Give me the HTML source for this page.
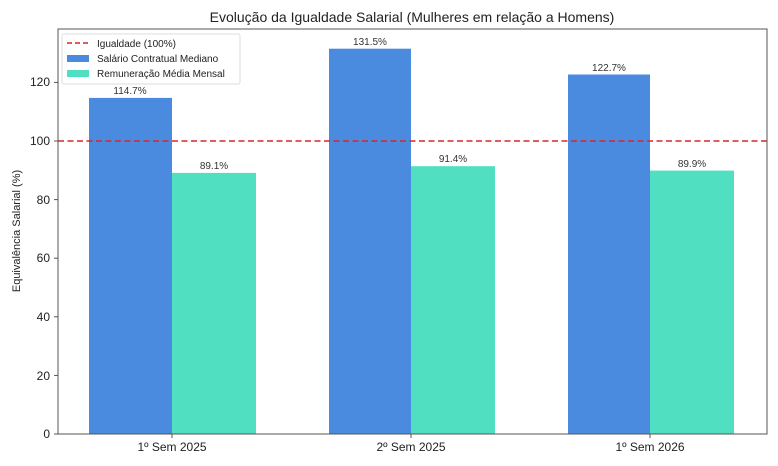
<!DOCTYPE html>
<html><head><meta charset="utf-8"><style>body{margin:0;background:#fff}svg{display:block}</style></head><body>
<svg width="778" height="466" xmlns="http://www.w3.org/2000/svg" font-family="Liberation Sans, sans-serif">
<rect width="778" height="466" fill="#fff"/>
<text x="412" y="22" font-size="14" text-anchor="middle" fill="#222">Evolução da Igualdade Salarial (Mulheres em relação a Homens)</text>
<g>
<rect x="89" y="97.9" width="83" height="336.1" fill="#4a8be0"/>
<rect x="172" y="172.9" width="84" height="261.1" fill="#50e0c1"/>
<rect x="329" y="48.7" width="82" height="385.3" fill="#4a8be0"/>
<rect x="411" y="166.2" width="84" height="267.8" fill="#50e0c1"/>
<rect x="568" y="74.5" width="82" height="359.5" fill="#4a8be0"/>
<rect x="650" y="170.6" width="84" height="263.4" fill="#50e0c1"/>
</g>
<line x1="58" y1="141" x2="767" y2="141" stroke="#d62728" stroke-width="1.6" stroke-dasharray="6,3.5"/>
<g font-size="10" text-anchor="middle" fill="#333">
<text x="130" y="94">114.7%</text><text x="214" y="169">89.1%</text>
<text x="370" y="45">131.5%</text><text x="453" y="162">91.4%</text>
<text x="609" y="71">122.7%</text><text x="692" y="167">89.9%</text>
</g>
<rect x="58" y="29" width="709" height="405" fill="none" stroke="#555" stroke-width="1"/>
<g font-size="12" fill="#222" text-anchor="end">
<text x="50" y="438">0</text><text x="50" y="380">20</text><text x="50" y="321">40</text>
<text x="50" y="262">60</text><text x="50" y="204">80</text><text x="50" y="145">100</text><text x="50" y="86">120</text>
</g>
<g stroke="#555"><line x1="54" y1="434" x2="58" y2="434"/><line x1="54" y1="375.4" x2="58" y2="375.4"/><line x1="54" y1="316.8" x2="58" y2="316.8"/><line x1="54" y1="258.2" x2="58" y2="258.2"/><line x1="54" y1="199.6" x2="58" y2="199.6"/><line x1="54" y1="141" x2="58" y2="141"/><line x1="54" y1="82.4" x2="58" y2="82.4"/>
<line x1="172" y1="434" x2="172" y2="438"/><line x1="411" y1="434" x2="411" y2="438"/><line x1="650" y1="434" x2="650" y2="438"/></g>
<g font-size="12" fill="#222" text-anchor="middle">
<text x="172" y="451">1º Sem 2025</text><text x="411" y="451">2º Sem 2025</text><text x="650" y="451">1º Sem 2026</text>
</g>
<text transform="translate(20,231) rotate(-90)" font-size="11" text-anchor="middle" fill="#222">Equivalência Salarial (%)</text>
<rect x="62" y="34" width="178" height="50" fill="#fff" stroke="#ddd" rx="2"/>
<line x1="67" y1="43" x2="89" y2="43" stroke="#d62728" stroke-width="1.6" stroke-dasharray="5,3"/>
<rect x="67" y="55" width="22" height="7" fill="#4a8be0"/>
<rect x="67" y="70" width="22" height="7" fill="#50e0c1"/>
<g font-size="10" fill="#222"><text x="97" y="47">Igualdade (100%)</text><text x="97" y="62">Salário Contratual Mediano</text><text x="97" y="77">Remuneração Média Mensal</text></g>
</svg>
</body></html>
